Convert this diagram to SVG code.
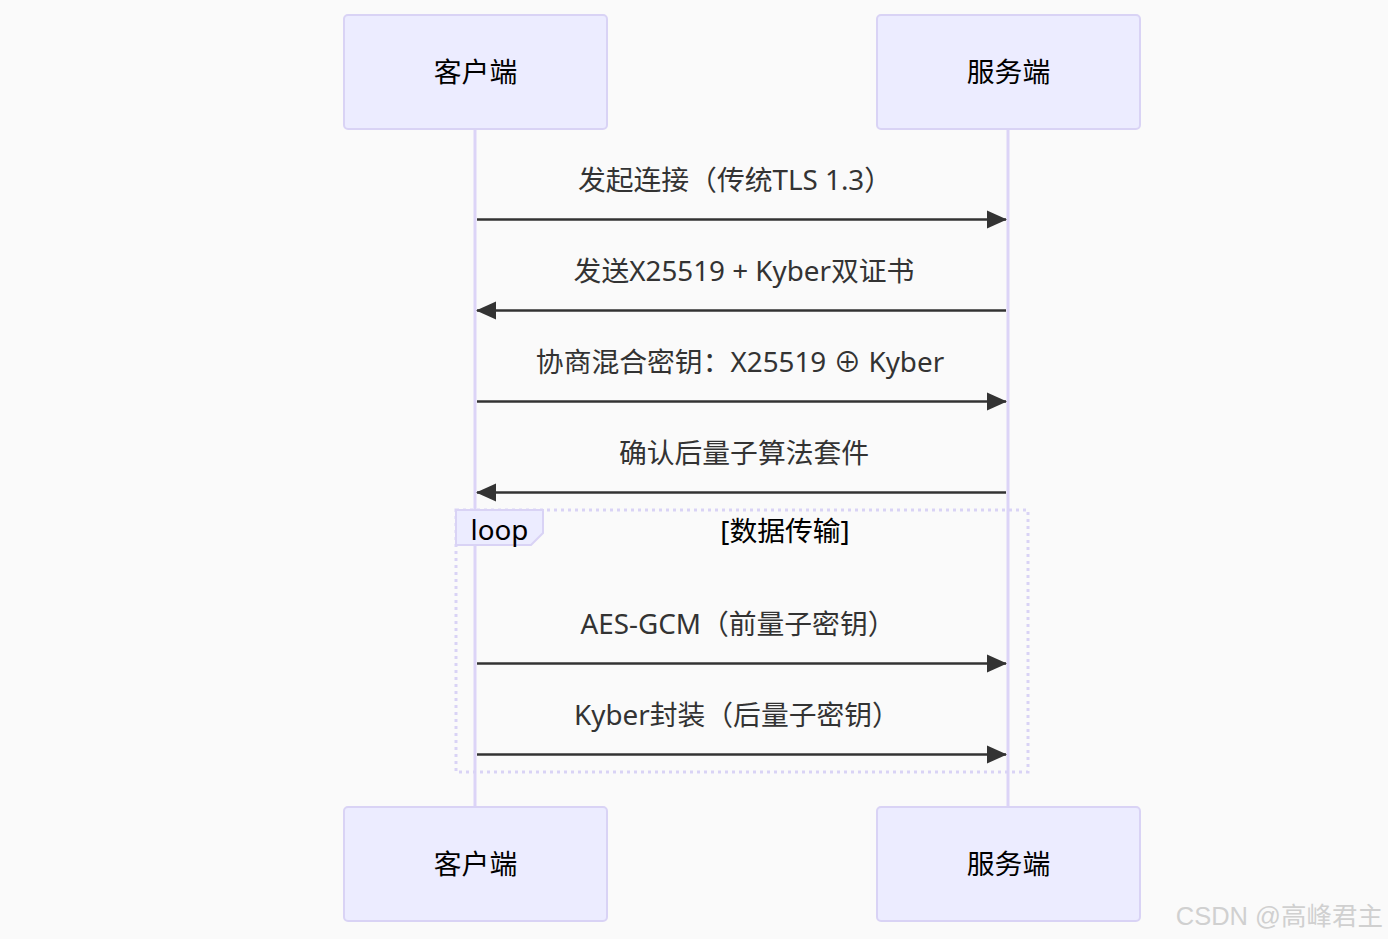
<svg xmlns="http://www.w3.org/2000/svg" width="1388" height="939" viewBox="0 0 1388 939">
<defs>
<style>
.actor{fill:#ECECFF;stroke:#D9D3F5;stroke-width:2}
.life{stroke:#DCD4F7;stroke-width:3}
.t{font-family:"Noto Sans","Noto Sans CJK SC",sans-serif;font-size:27.8px;fill:#333;text-anchor:middle}
.at{font-family:"Noto Sans","Noto Sans CJK SC",sans-serif;font-size:27.8px;fill:#000;text-anchor:middle}
.msg{stroke:#333;stroke-width:2.5;fill:none}
.loop{fill:none;stroke:#D9D3F5;stroke-width:3;stroke-dasharray:3 4}
</style>
<marker id="ahl" viewBox="0 0 20 20" refX="19" refY="10" markerWidth="20" markerHeight="20" markerUnits="userSpaceOnUse" orient="auto">
<path d="M0,1 L20,10 L0,19 z" fill="#333"/>
</marker>
</defs>
<rect width="1388" height="939" fill="#FAFAFA"/>
<g id="lifelines">
<line class="life" x1="475" y1="129" x2="475" y2="807"/>
<line class="life" x1="1008" y1="129" x2="1008" y2="807"/>
</g>
<g id="actor-client-top"><rect class="actor" x="344" y="15" width="263" height="114" rx="4"/><text class="at" x="475.5" y="82">客户端</text></g>
<g id="actor-server-top"><rect class="actor" x="877" y="15" width="263" height="114" rx="4"/><text class="at" x="1008.5" y="82">服务端</text></g>
<g id="actor-client-bottom"><rect class="actor" x="344" y="807" width="263" height="114" rx="4"/><text class="at" x="475.5" y="874">客户端</text></g>
<g id="actor-server-bottom"><rect class="actor" x="877" y="807" width="263" height="114" rx="4"/><text class="at" x="1008.5" y="874">服务端</text></g>
<g id="loop">
<rect class="loop" x="456" y="510" width="572" height="262"/>
<path d="M456,510 H543 V533 L531,545 H456 Z" fill="#ECECFF" stroke="#D9D3F5" stroke-width="2"/>
<text class="at" x="499.5" y="540">loop</text>
<text class="at" x="785" y="541">[数据传输]</text>
</g>
<g id="connectors">
<line class="msg" x1="477" y1="219.5" x2="1006" y2="219.5" marker-end="url(#ahl)"/>
<line class="msg" x1="1006" y1="310.5" x2="477" y2="310.5" marker-end="url(#ahl)"/>
<line class="msg" x1="477" y1="401.5" x2="1006" y2="401.5" marker-end="url(#ahl)"/>
<line class="msg" x1="1006" y1="492.5" x2="477" y2="492.5" marker-end="url(#ahl)"/>
<line class="msg" x1="477" y1="663.5" x2="1006" y2="663.5" marker-end="url(#ahl)"/>
<line class="msg" x1="477" y1="754.5" x2="1006" y2="754.5" marker-end="url(#ahl)"/>
</g>
<g id="labels">
<text class="t" x="735" y="190">发起连接（传统TLS 1.3）</text>
<text class="t" x="744" y="281">发送X25519 + Kyber双证书</text>
<text class="t" x="740" y="372">协商混合密钥：X25519 ⊕ Kyber</text>
<text class="t" x="744" y="463">确认后量子算法套件</text>
<text class="t" x="738" y="634">AES-GCM（前量子密钥）</text>
<text class="t" x="737" y="725">Kyber封装（后量子密钥）</text>
</g>
<text x="1383" y="925" style="font-family:'Liberation Sans','Noto Sans CJK SC',sans-serif;font-size:25.5px;fill:#d0d0d0;text-anchor:end">CSDN @高峰君主</text>
</svg>
